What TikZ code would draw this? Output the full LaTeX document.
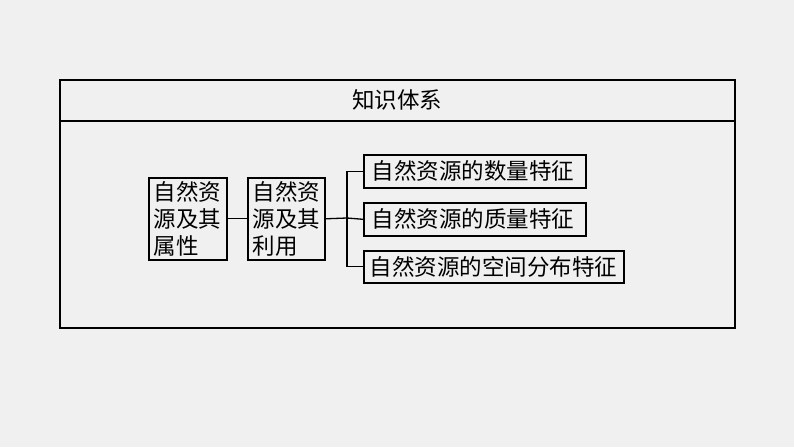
\documentclass[tikz,border=0pt]{standalone}
\usepackage{fontspec}
\newfontfamily\cjk{Noto Sans CJK SC}
\begin{document}
\begin{tikzpicture}[x=1pt,y=-1pt,
  box/.style={draw=black, line width=1.6pt, inner ysep=0pt, anchor=north west, align=left,
    font=\cjk\fontsize{22.5}{27}\selectfont},
  conn/.style={draw=black, line width=1.3pt}]
\fill[black!6] (0,0) rectangle (794,447);
\useasboundingbox (0,0) rectangle (794,447);
\draw[line width=1.6pt] (60,80) rectangle (735,328);
\draw[line width=1.2pt] (60,121) -- (735,121);
\node[font=\cjk\fontsize{22.5}{27}\selectfont] (title) at (397,100) {知识体系};
\node[box, inner xsep=5pt, text width=68pt, minimum height=82pt] (b1) at (148,177) {自然资\\源及其\\属性};
\node[box, inner xsep=5pt, text width=67pt, minimum height=82pt] (b2) at (247,177) {自然资\\源及其\\利用};
\node[box, inner xsep=8pt, text width=206pt, minimum height=33pt] (bA) at (363,154) {自然资源的数量特征};
\node[box, inner xsep=8pt, text width=206pt, minimum height=33pt] (bB) at (363,202) {自然资源的质量特征};
\node[box, inner xsep=6pt, text width=248pt, minimum height=32pt] (bC) at (363,250) {自然资源的空间分布特征};
\coordinate (br) at (347,218);
\draw[conn] (b1.east) -- (b2.west);
\draw[conn] (b2.east) -- (br);
\draw[conn] (bB.west) -- (br);
\draw[conn] (bA.west) -| (br);
\draw[conn] (bC.west) -| (br);
\end{tikzpicture}
\end{document}
